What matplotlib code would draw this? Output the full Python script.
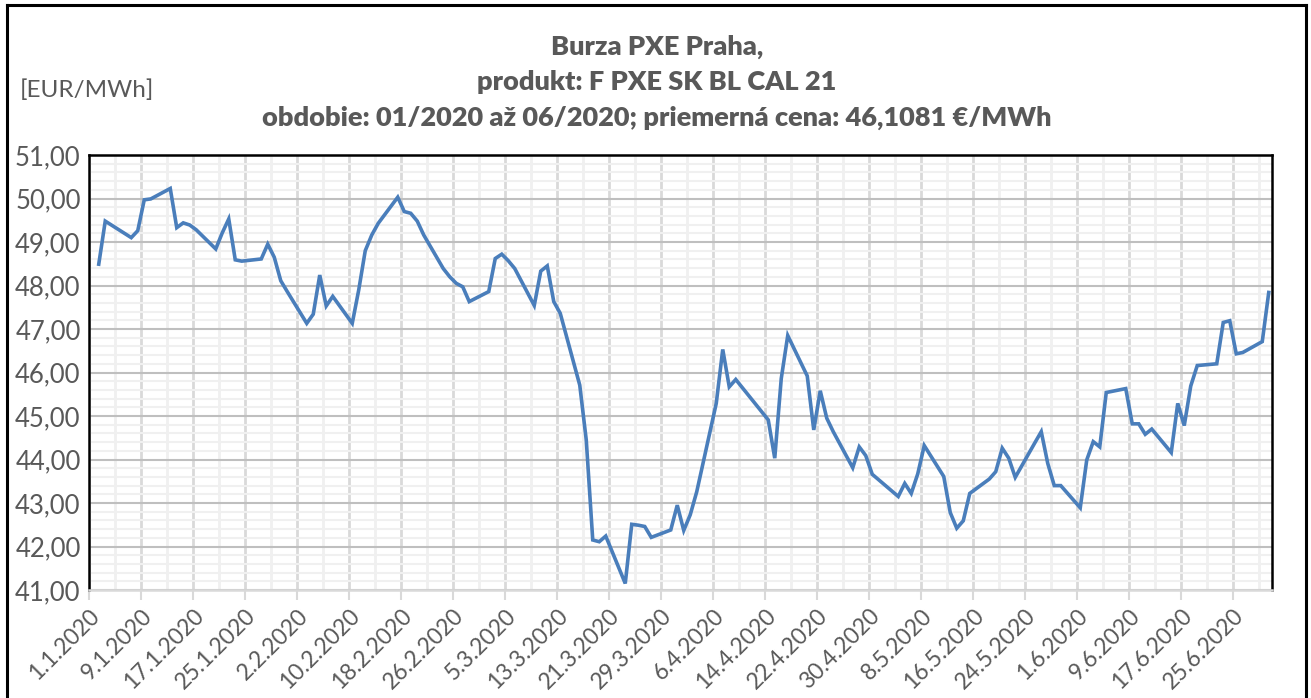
import matplotlib
matplotlib.use("Agg")
import matplotlib.pyplot as plt
import matplotlib.ticker as mticker
from matplotlib.lines import Line2D
import pandas as pd
import numpy as np

plt.rcParams['font.family'] = ['Lato', 'DejaVu Sans']

# ---- data ----
jan_days = [2, 3, 7, 8, 9, 10, 13, 14, 15, 16, 17, 20, 21, 22, 23, 24, 27, 28, 29, 30, 31]
jan_vals = [48.49, 49.48, 49.10, 49.26, 49.97, 49.99, 50.23, 49.33, 49.44, 49.39, 49.28,
            48.84, 49.21, 49.53, 48.59, 48.56, 48.61, 48.95, 48.65, 48.11, 47.86]
feb_days = [3, 4, 5, 6, 7, 10, 11, 12, 13, 14, 17, 18, 19, 20, 21, 24, 25, 26, 27, 28]
feb_vals = [47.13, 47.34, 48.24, 47.53, 47.75, 47.13, 47.90, 48.80, 49.16, 49.43,
            50.03, 49.70, 49.66, 49.48, 49.16, 48.39, 48.20, 48.05, 47.97, 47.63]
mar_days = [2, 3, 4, 5, 6, 9, 10, 11, 12, 13, 16, 17, 18, 19, 20, 23, 24, 25, 26, 27, 30, 31]
mar_vals = [47.86, 48.62, 48.72, 48.57, 48.39, 47.54, 48.33, 48.45, 47.63, 47.36,
            45.71, 44.45, 42.15, 42.11, 42.24, 41.15, 42.51, 42.49, 42.46, 42.21, 42.38, 42.95]
apr_days = [1, 2, 3, 6, 7, 8, 9, 14, 15, 16, 17, 20, 21, 22, 23, 24, 27, 28, 29, 30]
apr_vals = [42.37, 42.73, 43.26, 45.29, 46.53, 45.67, 45.84, 44.91, 44.03, 45.86,
            46.85, 45.92, 44.68, 45.58, 44.95, 44.64, 43.81, 44.29, 44.09, 43.66]
may_days = [4, 5, 6, 7, 8, 11, 12, 13, 14, 15, 18, 19, 20, 21, 22, 25, 26, 27, 28, 29]
may_vals = [43.15, 43.45, 43.22, 43.67, 44.32, 43.61, 42.78, 42.42, 42.59, 43.22,
            43.55, 43.72, 44.26, 44.03, 43.59, 44.38, 44.64, 43.91, 43.40, 43.40]
jun_days = [1, 2, 3, 4, 5, 8, 9, 10, 11, 12, 15, 16, 17, 18, 19, 22, 23, 24, 25, 26, 29, 30]
jun_vals = [42.89, 43.99, 44.41, 44.29, 45.54, 45.63, 44.82, 44.82, 44.58, 44.70,
            44.16, 45.29, 44.78, 45.69, 46.16, 46.20, 47.15, 47.19, 46.43, 46.46, 46.71, 47.84]

title_lines = ["Burza PXE Praha,",
               "produkt: F PXE SK BL CAL 21",
               "obdobie: 01/2020 až 06/2020; priemerná cena: 46,1081 €/MWh"]
unit_label = "[EUR/MWh]"

# ---- build series ----
start = pd.Timestamp("2020-01-01")
dates, values = [], []
for m, (ds, vs) in enumerate([(jan_days, jan_vals), (feb_days, feb_vals), (mar_days, mar_vals),
                              (apr_days, apr_vals), (may_days, may_vals), (jun_days, jun_vals)], start=1):
    for d, v in zip(ds, vs):
        dates.append(pd.Timestamp(2020, m, d))
        values.append(v)
offs = np.array([(d - start).days for d in dates]) + 0.5
values = np.array(values)

W, H = 1311, 698
fig = plt.figure(figsize=(W / 100, H / 100), dpi=100)
ax = fig.add_axes([89 / W, 1 - 590 / H, (1272 - 89) / W, (590 - 155) / H])

ax.set_xlim(0, 182)
ax.set_ylim(41, 51)

# gridlines
ax.yaxis.set_major_locator(mticker.MultipleLocator(1))
ax.yaxis.set_minor_locator(mticker.MultipleLocator(0.2))
ax.xaxis.set_major_locator(mticker.FixedLocator(np.arange(0, 182, 8)))
ax.xaxis.set_minor_locator(mticker.FixedLocator(np.arange(4, 182, 8)))
ax.grid(which='minor', axis='y', color='#f0f0f0', lw=1.5, zorder=0)
ax.grid(which='minor', axis='x', color='#f0f0f0', lw=2.0, zorder=0)
ax.grid(which='major', axis='x', color='#d9d9d9', lw=2.0, zorder=1)
ax.grid(which='major', axis='y', color='#bfbfbf', lw=1.5, zorder=1)
ax.set_axisbelow(True)

ax.plot(offs, values, color='#4a7ebb', lw=2.6, solid_joinstyle='miter', zorder=3)

# tick labels
tick_dates = [start + pd.Timedelta(days=int(k)) for k in np.arange(0, 182, 8)]
ax.set_xticklabels([f"{t.day}.{t.month}.{t.year}" for t in tick_dates],
                   rotation=45, ha='right', rotation_mode='anchor', fontsize=16.5, color='#595959')
ax.yaxis.set_major_formatter(mticker.FuncFormatter(lambda v, p: f"{v:.2f}".replace('.', ',')))
ax.tick_params(axis='y', which='both', length=0, labelsize=18.5, labelcolor='#595959', pad=6)
ax.tick_params(axis='x', which='major', length=7, width=1.5, color='#d9d9d9', pad=4)
ax.tick_params(axis='x', which='minor', length=0)

for s in ['left', 'top', 'right']:
    ax.spines[s].set_color('black')
    ax.spines[s].set_linewidth(1.8)
ax.spines['bottom'].set_color('#d9d9d9')
ax.spines['bottom'].set_linewidth(1.8)

# titles
ys = [47, 82, 118]
for t, y in zip(title_lines, ys):
    fig.text(657 / W, 1 - y / H, t, ha='center', va='center', fontsize=19.5,
             fontweight='heavy', color='#595959')
fig.text(20 / W, 1 - 90 / H, unit_label, ha='left', va='center', fontsize=17.5, color='#595959')

# outer border
lw = 2.2
for (x0, y0, x1, y1) in [(7, 5, 1306, 5), (7, 5, 7, 700), (1306, 5, 1306, 700)]:
    fig.add_artist(Line2D([x0 / W, x1 / W], [1 - y0 / H, 1 - y1 / H], color='black', lw=lw,
                          transform=fig.transFigure))

fig.savefig("out.png", dpi=100)
